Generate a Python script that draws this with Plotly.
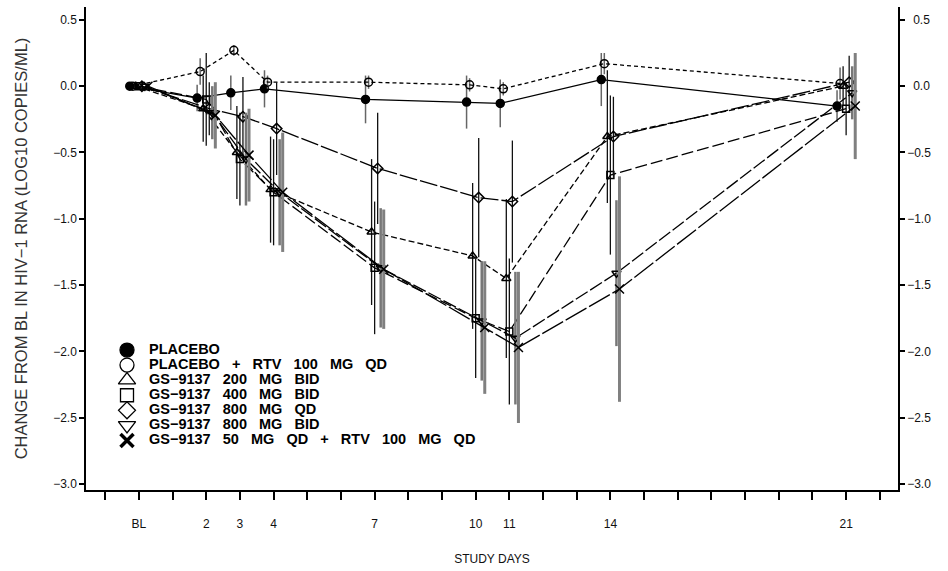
import plotly.graph_objects as go

# ---------------- data ----------------
days = [0, 2, 3, 4, 7, 10, 11, 14, 21]
tick_days = [0, 2, 3, 4, 7, 10, 11, 14, 21]
tick_labels = ["BL", "2", "3", "4", "7", "10", "11", "14", "21"]
y_tick_vals = [0.5, 0.0, -0.5, -1.0, -1.5, -2.0, -2.5, -3.0]
y_tick_text = ["0.5", "0.0", "\u22120.5", "\u22121.0", "\u22121.5", "\u22122.0", "\u22122.5", "\u22123.0"]

names = [
    "PLACEBO",
    "PLACEBO   +   RTV   100   MG   QD",
    "GS\u22129137   200   MG   BID",
    "GS\u22129137   400   MG   BID",
    "GS\u22129137   800   MG   QD",
    "GS\u22129137   800   MG   BID",
    "GS\u22129137   50   MG   QD   +   RTV   100   MG   QD",
]

placebo         = [0.00, -0.09, -0.05, -0.02, -0.10, -0.12, -0.13, 0.05, -0.15]
placebo_err     = [0.00, 0.10, 0.13, 0.14, 0.18, 0.20, 0.18, 0.20, 0.12]
placebo_rtv     = [0.00, 0.11, 0.27, 0.03, 0.03, 0.01, -0.02, 0.17, 0.02]
placebo_rtv_err = [0.00, 0.10, 0.04, 0.05, 0.05, 0.05, 0.05, 0.08, 0.12]
gs200_bid       = [0.00, -0.17, -0.50, -0.78, -1.10, -1.28, -1.45, -0.38, 0.00]
gs200_bid_err   = [0.00, 0.25, 0.35, 0.40, 0.55, 0.55, 0.60, 0.50, 0.15]
gs400_bid       = [0.00, -0.10, -0.55, -0.80, -1.37, -1.75, -1.85, -0.67, -0.17]
gs400_bid_err   = [0.00, 0.35, 0.35, 0.40, 0.50, 0.45, 0.55, 0.60, 0.20]
gs800_qd        = [0.00, -0.17, -0.23, -0.32, -0.62, -0.84, -0.87, -0.38, 0.03]
gs800_qd_err    = [0.00, 0.20, 0.30, 0.35, 0.42, 0.45, 0.46, 0.30, 0.20]
gs800_bid       = [0.00, -0.20, -0.55, -0.80, -1.37, -1.77, -1.90, -1.41, -0.05]
gs800_bid_err   = [0.00, 0.20, 0.35, 0.40, 0.45, 0.45, 0.50, 0.55, 0.20]
gs50_rtv        = [0.00, -0.22, -0.52, -0.80, -1.38, -1.82, -1.97, -1.53, -0.15]
gs50_rtv_err    = [0.00, 0.25, 0.35, 0.45, 0.45, 0.50, 0.57, 0.85, 0.40]

values = [placebo, placebo_rtv, gs200_bid, gs400_bid, gs800_qd, gs800_bid, gs50_rtv]
errors = [placebo_err, placebo_rtv_err, gs200_bid_err, gs400_bid_err,
          gs800_qd_err, gs800_bid_err, gs50_rtv_err]

# ---------------- styles ----------------
dodge = [-0.27, -0.18, -0.09, 0.0, 0.09, 0.18, 0.27]
symbols = ["circle", "circle-open", "triangle-up-open", "square-open",
           "diamond-open", "triangle-down-open", "x-thin-open"]
msizes = [8, 8, 8, 7, 8, 8, 9]
dashes = ["solid", "4px,3px", "6px,3px", "12px,4px", "18px,3px", "14px,3px", "24px,3px"]
err_colors = ["#666666", "#666666", "#111111", "#111111", "#111111", "#777777", "#808080"]
err_widths = [1.5, 1.5, 1.3, 1.3, 1.3, 2.5, 3]

TICK_FONT = dict(family="Liberation Sans, Arial, sans-serif", size=12, color="#111111")

fig = go.Figure()

for i, (nm, v, e) in enumerate(zip(names, values, errors)):
    fig.add_trace(go.Scatter(
        x=[d + dodge[i] for d in days], y=v, name=nm, mode="lines+markers",
        line=dict(color="black", width=1.3, dash=dashes[i]),
        marker=dict(symbol=symbols[i], size=msizes[i], color="black",
                    line=dict(color="black", width=1.5)),
        error_y=dict(type="data", array=e, visible=True, color=err_colors[i],
                     thickness=err_widths[i], width=0),
        showlegend=False,
    ))

# dummy trace to activate right axis
fig.add_trace(go.Scatter(x=[None], y=[None], yaxis="y2", showlegend=False, hoverinfo="skip"))

# ---------------- custom legend (pixel-based overlay axes) ----------------
PLOT_L, PLOT_R, PLOT_T, PLOT_B = 86, 898, 7, 497
LEG_SYM_X, LEG_TXT_X, LEG_Y0, LEG_DY = 127, 149, 355, 15.3
leg_y = [LEG_Y0 + k * LEG_DY for k in range(len(names))]
leg_sizes = [14, 14, 15, 13, 13, 15, 13]
for i in range(len(names)):
    fig.add_trace(go.Scatter(
        x=[LEG_SYM_X], y=[leg_y[i]], xaxis="x3", yaxis="y3", mode="markers",
        marker=dict(symbol=symbols[i], size=leg_sizes[i], color="black",
                    line=dict(color="black", width=1.3 if i != 6 else 3.5)),
        showlegend=False, hoverinfo="skip"))
fig.add_trace(go.Scatter(
    x=[LEG_TXT_X] * len(names), y=leg_y, xaxis="x3", yaxis="y3", mode="text",
    text=names, textposition="middle right",
    textfont=dict(family="Liberation Sans, Arial, sans-serif",
                  size=14.5, color="black", weight="bold"),
    showlegend=False, hoverinfo="skip"))

all_ticks = list(range(-1, 23))
lab = dict(zip(tick_days, tick_labels))
all_text = [lab.get(t, "") for t in all_ticks]

yr = [-3.045, 0.597]
fig.update_layout(
    width=948, height=571,
    margin=dict(l=PLOT_L, r=948 - PLOT_R, t=PLOT_T, b=571 - PLOT_B),
    plot_bgcolor="white", paper_bgcolor="white",
    showlegend=False,
    xaxis=dict(range=[-1.57, 22.54], tickvals=all_ticks, ticktext=all_text,
               ticks="outside", ticklen=8, tickwidth=1.5, tickcolor="black",
               showline=True, linewidth=2, linecolor="black", showgrid=False, zeroline=False,
               tickfont=TICK_FONT, ticklabelstandoff=14,
               title=dict(text="STUDY DAYS", font=TICK_FONT, standoff=24)),
    yaxis=dict(range=yr, tickvals=y_tick_vals, ticktext=y_tick_text,
               ticks="outside", ticklen=5, tickwidth=2, tickcolor="black",
               showline=True, linewidth=1.5, linecolor="black", showgrid=False, zeroline=False,
               tickfont=TICK_FONT,
               title=dict(text="CHANGE FROM BL IN HIV\u22121 RNA (LOG10 COPIES/ML)",
                          font=dict(family="Liberation Sans, Arial, sans-serif", size=16.5, color="#333333"),
                          standoff=21)),
    yaxis2=dict(range=yr, tickvals=y_tick_vals,
                ticktext=[("\u2002" + t if not t.startswith("\u2212") else t) for t in y_tick_text],
                overlaying="y", side="right",
                ticks="outside", ticklen=5, tickwidth=2, tickcolor="black",
                showline=True, linewidth=1.5, linecolor="black", showgrid=False, zeroline=False,
                tickfont=TICK_FONT),
    xaxis3=dict(range=[PLOT_L, PLOT_R], overlaying="x", anchor="y3", visible=False, fixedrange=True),
    yaxis3=dict(range=[PLOT_B, PLOT_T], overlaying="y", anchor="x3", visible=False, fixedrange=True),
)

fig.write_html("out.html")
